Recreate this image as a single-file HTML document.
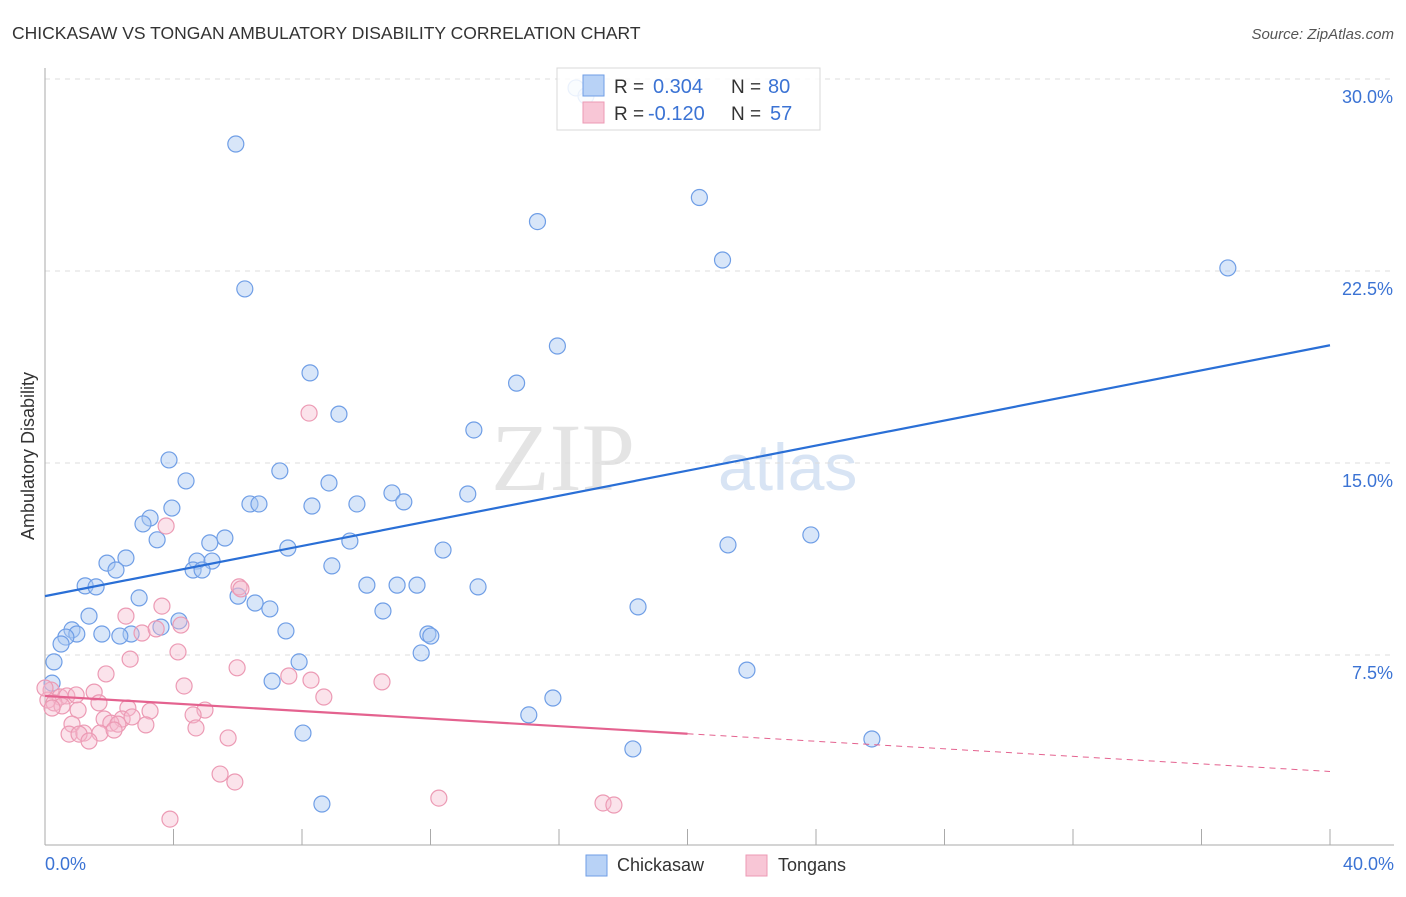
<!DOCTYPE html>
<html><head><meta charset="utf-8"><style>
body{margin:0;background:#fff;font-family:"Liberation Sans",sans-serif}
</style></head><body>
<svg id="chart" width="1406" height="892" xmlns="http://www.w3.org/2000/svg">
<text x="12" y="39" font-size="17.5" fill="#333">CHICKASAW VS TONGAN AMBULATORY DISABILITY CORRELATION CHART</text>
<text x="1394" y="39" font-size="15" fill="#555" font-style="italic" text-anchor="end">Source: ZipAtlas.com</text>
<text x="635" y="490" font-size="96" fill="#e4e4e4" font-family="Liberation Serif" text-anchor="end">ZIP</text>
<text x="718" y="490" font-size="66" fill="#d8e4f4">atlas</text>
<g id="grid"></g>
<g id="axes"></g>
<g id="pts"></g>
<g id="lines"></g>
<text transform="translate(34,456) rotate(-90)" font-size="18" fill="#333" text-anchor="middle">Ambulatory Disability</text>
<text x="45" y="870" font-size="18" fill="#3b73d4">0.0%</text>
<text x="1394" y="870" font-size="18" fill="#3b73d4" text-anchor="end">40.0%</text>
<g><rect x="586" y="855" width="21" height="21" fill="#b8d2f6" stroke="#6f9ee6"/><text x="617" y="871" font-size="18" fill="#333">Chickasaw</text></g>
<g><rect x="746" y="855" width="21" height="21" fill="#f8c6d6" stroke="#ec9ab4"/><text x="778" y="871" font-size="18" fill="#333">Tongans</text></g>
<g>
<rect x="557" y="68" width="263" height="62" fill="#fff" fill-opacity="0.85" stroke="#d8d8d8"/>
<rect x="583" y="75" width="21" height="21" fill="#b8d2f6" stroke="#6f9ee6"/>
<rect x="583" y="102" width="21" height="21" fill="#f8c6d6" stroke="#ec9ab4"/>
<text x="614" y="93" font-size="19" fill="#333">R = </text><text x="653" y="93" font-size="20" fill="#3b73d4">0.304</text>
<text x="731" y="93" font-size="19" fill="#333">N = </text><text x="768" y="93" font-size="20" fill="#3b73d4">80</text>
<text x="614" y="120" font-size="19" fill="#333">R = </text><text x="648" y="120" font-size="20" fill="#3b73d4">-0.120</text>
<text x="731" y="120" font-size="19" fill="#333">N = </text><text x="770" y="120" font-size="20" fill="#3b73d4">57</text>
</g>
</svg>
<script>
const yTicks=[7.5,15,22.5,30];
const yTickLabels=["7.5%","15.0%","22.5%","30.0%"];
const blueX=[5.94,6.22,15.33,20.37,21.09,36.82,15.95,14.68,8.25,9.15,13.35,3.86,7.31,4.39,3.95,8.84,10.8,13.16,6.38,6.66,8.31,9.71,11.17,3.27,3.05,3.49,5.6,5.13,7.56,9.49,12.39,21.26,23.84,2.52,1.93,4.73,5.2,2.21,4.61,4.89,8.93,1.25,1.59,10.02,10.96,11.58,13.48,2.93,6.01,6.54,7.0,10.52,18.46,1.37,4.17,7.5,2.68,0.84,0.99,3.61,1.77,2.33,0.65,11.92,12.01,0.5,0.28,7.91,11.71,21.85,0.22,7.07,15.81,15.06,8.03,18.3,25.74,8.62,16.53,16.84];
const blueY=[27.46,21.8,24.43,25.37,22.93,22.62,19.57,18.12,18.52,16.91,16.29,15.12,14.69,14.3,13.24,14.22,13.83,13.79,13.4,13.4,13.32,13.4,13.48,12.85,12.62,12.0,12.07,11.88,11.68,11.95,11.6,11.8,12.19,11.29,11.09,11.17,11.17,10.82,10.82,10.82,10.98,10.2,10.16,10.23,10.23,10.23,10.16,9.73,9.8,9.53,9.3,9.22,9.38,9.02,8.83,8.44,8.32,8.48,8.32,8.59,8.32,8.24,8.2,8.32,8.24,7.93,7.23,7.23,7.58,6.91,6.4,6.48,5.82,5.16,4.45,3.83,4.22,1.68,29.65,29.34];
const pinkX=[8.22,3.77,6.04,6.1,2.52,3.64,4.23,3.02,3.46,4.14,2.65,5.98,1.9,4.33,7.59,8.28,10.49,8.68,1.53,0.19,0.47,0.68,0.97,0.09,0.28,1.68,1.03,0.53,2.58,3.27,4.98,4.61,2.4,1.84,2.71,2.05,0.84,2.27,3.14,4.7,0.75,1.21,1.71,1.06,2.15,1.37,5.7,5.45,5.91,12.26,17.37,17.71,3.89,0.22,0.0];
const pinkY=[16.95,12.54,10.16,10.08,9.02,9.41,8.67,8.36,8.52,7.62,7.34,7.0,6.76,6.29,6.68,6.52,6.45,5.86,6.05,6.13,5.86,5.9,5.94,5.74,5.63,5.63,5.35,5.51,5.43,5.31,5.35,5.16,5.0,5.0,5.08,4.84,4.8,4.8,4.77,4.65,4.41,4.45,4.45,4.41,4.57,4.14,4.26,2.85,2.54,1.91,1.72,1.64,1.09,5.43,6.21];
const blueFit=[9.8,19.6];  // y at x=0 and x=40
const pinkFit=[5.9,2.95];
const X0=45,X1=1330,Y0=847,PX=192/7.5;
const sx=v=>X0+(X1-X0)*v/40, sy=v=>Y0-v*PX;
const NS="http://www.w3.org/2000/svg";
function mk(parent,tag,attrs){const e=document.createElementNS(NS,tag);for(const k in attrs)e.setAttribute(k,attrs[k]);document.getElementById(parent).appendChild(e);return e;}
yTicks.forEach((t,i)=>{
 const l=mk('grid','line',{x1:X0,x2:1394,y1:sy(t),y2:sy(t),stroke:'#dcdcdc','stroke-dasharray':'5,5'});
 
 
 const tx=mk('grid','text',{x:1393,y:sy(t)+24,'font-size':18,fill:'#3b73d4','text-anchor':'end'});
 tx.textContent=yTickLabels[i];
 
 
});
const ax=mk('axes','line',{x1:X0,x2:X0,y1:68,y2:845,stroke:'#aaa'});


const bx=mk('axes','line',{x1:X0,x2:1394,y1:845,y2:845,stroke:'#aaa'});


for(let i=0;i<=10;i++){const t=mk('axes','line',{x1:sx(i*4),x2:sx(i*4),y1:829,y2:845,stroke:'#aaa'});
 
 }
blueX.forEach((v,i)=>{const c=mk('pts','circle',{cx:sx(v),cy:sy(blueY[i]),r:8,fill:'#a9c8f2','fill-opacity':0.45,stroke:'#6f9ee6','stroke-width':1.2});
 
 });
pinkX.forEach((v,i)=>{const c=mk('pts','circle',{cx:sx(v),cy:sy(pinkY[i]),r:8,fill:'#f6b8cc','fill-opacity':0.4,stroke:'#ec9ab4','stroke-width':1.2});
 
 });
const bl=mk('lines','line',{x1:sx(0),y1:sy(blueFit[0]),x2:sx(40),y2:sy(blueFit[1]),stroke:'#2a6fd6','stroke-width':2.2});


const pm=pinkFit[0]+(pinkFit[1]-pinkFit[0])*0.5;
const pl=mk('lines','line',{x1:sx(0),y1:sy(pinkFit[0]),x2:sx(20),y2:sy(pm),stroke:'#e4628f','stroke-width':2.2});


const pd=mk('lines','line',{x1:sx(20),y1:sy(pm),x2:sx(40),y2:sy(pinkFit[1]),stroke:'#e4628f','stroke-width':1,'stroke-dasharray':'6,5'});


</script>
</body></html>
